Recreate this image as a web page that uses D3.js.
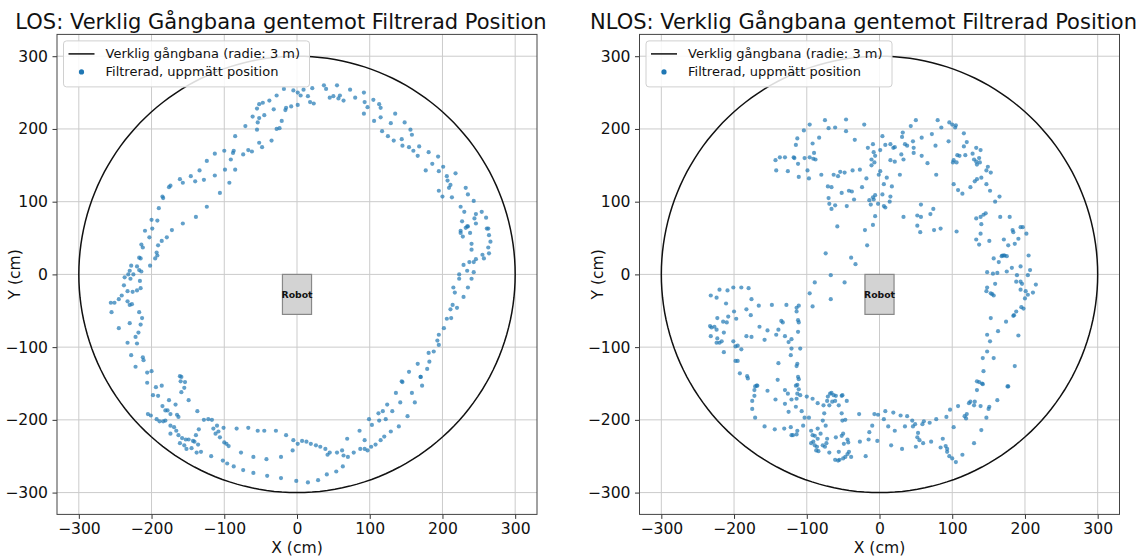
<!DOCTYPE html>
<html>
<head>
<meta charset="utf-8">
<script src="https://cdn.jsdelivr.net/npm/d3@7"></script>
<style>
  body { margin: 0; background: #fff; }
  svg { display: block; font-family: "DejaVu Sans", sans-serif; }
</style>
</head>
<body>
<svg id="plotarea" width="1145" height="556"></svg>
<script>
// Ticks, labels and the reference path
var ticks = [-300, -200, -100, 0, 100, 200, 300];
var titles = ["LOS: Verklig Gångbana gentemot Filtrerad Position",
              "NLOS: Verklig Gångbana gentemot Filtrerad Position"];
var legendLabels = ["Verklig gångbana (radie: 3 m)", "Filtrerad, uppmätt position"];
var pathRadius = 300;                 // cm
var robotBox = [-20, -55, 20, 0];     // x0, y0, x1, y1 in cm

// Filtered positions (x, y in cm)
var losPoints = [
  [-18,255],[-5,253],[1,250],[5,246],[9,254],[15,245],[21,256],[18,237],[23,235],[37,260],[40,255],[45,243],[55,260],[50,245],[57,242],[59,246],[64,239],[73,254],[80,243],[92,250],[93,237],[97,230],[105,240],[113,234],[115,229],[92,221],[106,211],[115,216],[135,221],[148,209],[129,208],[117,197],[125,190],[133,184],[144,186],[156,199],[158,192],[145,177],[154,175],[168,176],[160,170],[166,163],[181,168],[177,143],[186,152],[194,162],[201,148],[195,142],[206,135],[207,129],[211,123],[218,139],[209,119],[195,115],[200,107],[213,106],[232,119],[235,110],[243,101],[225,93],[230,86],[246,83],[254,86],[260,78],[244,77],[227,73],[234,66],[246,70],[225,60],[263,63],
  [-55,228],[-52,234],[-47,236],[-38,239],[-28,246],[-52,215],[-45,219],[-32,227],[-16,226],[-15,229],[-8,231],[1,233],[-21,211],[-24,201],[-28,200],[-61,217],[-54,209],[-55,199],[-71,204],[-62,169],[-67,171],[-74,165],[-52,181],[-48,175],[-35,184],[-85,190],[-87,170],[-88,167],[-100,170],[-113,166],[-91,158],[-99,144],[-85,144],[-124,156],[-134,143],[-146,135],[-140,128],[-157,126],[-161,131],[-128,130],[-113,136],[-93,126],[-106,112],[-174,122],[-176,120],[-185,107],[-184,105],[-190,91],[-124,93],[-139,79],[-157,70],[-172,61],[-192,74],[-200,75],[-199,63],[-209,60],
  [-203,51],[-179,51],[-186,46],[-214,41],[-212,37],[-191,40],[-193,30],[-192,26],[-195,22],[-217,23],[-215,22],[-202,12],[-228,12],[-220,11],[-217,6],[-214,4],[-230,5],[-232,0],[-225,0],[-237,-4],[-229,-6],[-238,-15],[-216,-9],[-215,-19],[-220,-22],[-226,-24],[-233,-23],[-241,-29],[-245,-34],[-251,-39],[-256,-39],[-233,-37],[-230,-42],[-227,-41],[-255,-52],[-217,-52],[-213,-60],[-230,-67],[-215,-69],[-245,-74],[-218,-80],[-222,-86],[-233,-94],[-220,-95],[-228,-111],[-212,-114],[-211,-118],[-222,-127],[-206,-135],[-200,-133],[-206,-149],[-161,-140],[-159,-141],[-160,-147],[-154,-148],
  [232,64],[235,66],[238,57],[225,57],[228,52],[261,63],[264,54],[266,45],[240,42],[240,34],[263,37],[264,29],[255,27],[257,22],[246,21],[243,17],[237,17],[229,13],[234,5],[223,0],[243,3],[223,-6],[240,-6],[215,-18],[235,-18],[217,-25],[229,-31],[214,-42],[211,-48],[220,-46],[206,-61],[212,-60],[202,-74],[195,-83],[193,-91],[195,-97],[188,-106],[181,-108],[182,-120],[166,-123],[179,-130],[154,-134],[170,-141],[144,-147],
  [-194,-155],[-186,-153],[-198,-166],[-191,-167],[-155,-156],[-159,-162],[-149,-173],[-176,-173],[-185,-181],[-167,-179],[-178,-187],[-181,-187],[-174,-192],[-205,-192],[-201,-194],[-193,-199],[-189,-202],[-184,-202],[-181,-201],[-165,-193],[-163,-196],[-174,-208],[-169,-210],[-166,-215],[-174,-219],[-163,-221],[-158,-225],[-153,-227],[-149,-227],[-143,-229],[-161,-232],[-155,-235],[-152,-240],[-145,-239],[-138,-245],[-132,-244],[-136,-234],[-141,-230],[-139,-221],[-135,-213],[-137,-188],[-128,-200],[-122,-199],[-117,-200],[-110,-208],[-115,-212],[-112,-219],[-108,-216],[-106,-224],[-100,-231],[-97,-233],[-94,-236],[-101,-211],[-83,-212],[-67,-211],[-54,-215],[-45,-215],[-29,-215],[-15,-221],[-5,-228],[1,-233],[7,-229],[13,-230],[19,-233],[26,-235],[32,-237],[39,-240],[45,-245],[42,-248],[55,-245],[62,-242],[64,-249],[70,-251],[78,-245],[87,-240],[93,-240],[97,-242],[102,-237],[108,-234],[115,-228],[120,-223],[129,-216],[140,-209],[152,-195],[69,-226],[86,-215],[93,-228],[99,-199],[103,-207],[113,-201],[122,-199],[112,-191],[118,-188],[124,-179],[131,-188],[136,-163],[142,-176],[145,-148],[158,-163],[162,-176],[170,-141],[172,-153],
  [-102,-256],[-96,-260],[-87,-264],[-74,-269],[-60,-273],[-41,-277],[-22,-280],[-1,-284],[15,-286],[29,-283],[41,-275],[54,-271],[63,-264],[-77,-245],[-60,-251],[-42,-254],[-22,-251],[-6,-242],[-118,-250]
];

var nlosPoints = [
  [-143,157],[-137,161],[-130,161],[-142,143],[-126,142],[-118,161],[-117,160],[-112,152],[-111,134],[-103,160],[-99,143],[-96,161],[-97,132],[-91,159],[-88,158],[-90,167],[-92,180],[-115,178],[-113,187],[-104,198],[-96,206],[-83,188],[-80,137],[-75,212],[-70,201],[-61,202],[-46,213],[-46,197],[-34,185],[-21,206],[-71,121],[-66,120],[-63,137],[-57,135],[-54,141],[-48,140],[-37,143],[-27,144],[-70,105],[-69,97],[-66,90],[-61,95],[-52,112],[-45,94],[-42,115],[-38,114],[-35,103],[-24,120],[-18,132],[-14,102],[-12,96],[-9,106],[-6,109],[-8,103],[-2,97],[-1,137],[1,142],[6,124],[10,133],[17,121],[15,107],[14,100],[4,110],[6,94],[8,92],[-6,80],[-9,68],[-20,61],[-17,40],[-58,66],[-74,29],[-39,23],
  [-16,174],[-9,179],[-8,168],[-11,158],[-7,154],[-6,163],[-11,150],[1,171],[4,190],[8,178],[15,179],[19,174],[21,175],[15,157],[21,155],[28,137],[32,195],[31,189],[35,179],[38,177],[33,158],[30,165],[43,204],[50,212],[47,174],[47,167],[46,183],[58,188],[72,193],[77,177],[80,212],[85,202],[96,209],[100,206],[105,205],[104,202],[116,194],[95,183],[120,182],[116,176],[107,164],[110,163],[102,157],[101,154],[106,154],[118,164],[128,166],[133,174],[139,171],[130,158],[133,155],[137,160],[138,154],[134,151],[149,148],[147,143],[153,140],[66,153],[58,163],[78,137],[102,124],[108,116],[114,111],[125,120],[131,128],[134,131],[140,133],[147,124],[152,115],[165,107],[159,100],
  [57,96],[74,90],[33,79],[52,81],[57,79],[70,83],[52,67],[56,58],[75,61],[84,63],[106,59],[133,77],[139,79],[143,82],[146,84],[140,69],[166,79],[179,79],[133,48],[137,41],[151,46],[139,56],[171,48],[177,40],[184,58],[183,61],[186,42],[191,49],[194,65],[197,65],[202,56],[205,26],[169,26],[172,26],[157,22],
  [-232,-29],[-224,-32],[-220,-21],[-209,-22],[-201,-18],[-190,-18],[-180,-19],[-176,-34],[-211,-40],[-200,-51],[-197,-61],[-183,-48],[-177,-56],[-166,-43],[-148,-42],[-128,-42],[-114,-46],[-111,-43],[-114,-51],[-112,-63],[-111,-66],[-112,-79],[-139,-76],[-135,-64],[-133,-66],[-154,-77],[-165,-72],[-183,-85],[-176,-86],[-158,-90],[-142,-83],[-130,-85],[-121,-89],[-125,-93],[-233,-71],[-231,-73],[-227,-72],[-223,-60],[-215,-65],[-210,-66],[-208,-58],[-224,-76],[-214,-80],[-232,-85],[-223,-88],[-224,-94],[-220,-94],[-217,-92],[-201,-92],[-198,-99],[-195,-98],[-190,-103],[-214,-107],[-198,-119],[-195,-119],[-192,-136],[-182,-140],[-181,-143],[-169,-153],[-139,-122],[-140,-145],[-121,-102],[-109,-102],[-122,-111],[-113,-123],[-114,-126],[-112,-141],[-111,-144],[-113,-152],
  [-33,14],[-67,-1],[-48,-11],[-89,-11],[-96,-26],[-92,-44],[-67,-34],
  [164,17],[168,25],[171,26],[175,25],[182,9],[194,11],[207,6],[204,-1],[189,-1],[175,4],[162,2],[156,1],[148,3],[159,-13],[148,-18],[147,-23],[155,-27],[157,-29],[153,-26],[188,-10],[194,-10],[196,-13],[194,-21],[201,-23],[204,-28],[211,-25],[215,-14],[200,-33],[195,-45],[198,-47],[188,-51],[185,-56],[184,-57],[153,-60],[174,-65],[163,-78],[148,-83],[191,-84],[152,-92],[148,-106],[142,-115],[157,-115],[186,-126],[143,-133],[134,-147],[141,-150],[177,-154],
  [-171,-154],[-168,-153],[-172,-159],[-172,-167],[-175,-174],[-175,-185],[-171,-197],[-154,-160],[-143,-172],[-130,-159],[-126,-164],[-121,-172],[-130,-178],[-125,-189],[-115,-153],[-111,-158],[-113,-164],[-109,-166],[-114,-171],[-115,-182],[-107,-188],[-100,-168],[-92,-171],[-85,-177],[-77,-180],[-72,-174],[-71,-168],[-68,-164],[-66,-163],[-63,-166],[-60,-167],[-61,-174],[-52,-167],[-51,-166],[-45,-174],[-69,-180],[-65,-175],[-56,-180],[-103,-197],[-97,-197],[-76,-191],[-78,-201],[-52,-191],[-51,-201],[-47,-200],[-74,-208],[-85,-212],[-94,-215],[-92,-221],[-89,-222],[-81,-219],[-85,-226],[-91,-230],[-89,-235],[-94,-232],[-86,-237],[-84,-243],[-87,-242],[-78,-235],[-73,-232],[-72,-226],[-75,-237],[-69,-245],[-61,-255],[-57,-256],[-55,-255],[-50,-253],[-47,-251],[-44,-247],[-42,-244],[-56,-244],[-60,-224],[-52,-222],[-50,-219],[-44,-227],[-43,-231],[-49,-233],[-39,-251],[-19,-250],[-27,-230],[-15,-227],[-14,-217],[-10,-208],[-3,-229],[-28,-192],[-7,-192],[-2,-193],[8,-188],[6,-199],[12,-209],[16,-235],[19,-190],[21,-215],[29,-194],[31,-240],[35,-209],[38,-195],[45,-201],[46,-209],[49,-206],[53,-218],[52,-224],[55,-228],[60,-232],[50,-237],[61,-202],[59,-206],[69,-204],[71,-230],[78,-199],[87,-226],[84,-238],[92,-196],[97,-186],[91,-236],[93,-240],[93,-244],[96,-250],[100,-253],[105,-258],[114,-248],[102,-210],[108,-181],[117,-195],[119,-198],[120,-192],[123,-177],[125,-175],[130,-180],[130,-232],[131,-175],[139,-181],[140,-214],[147,-197],[150,-185],[151,-182],[162,-173],[176,-154],[137,-148],[142,-151],[134,-159],
  [-158,-209],[-144,-213],[-131,-212],[-122,-210],[-121,-221],[-119,-221],[-114,-220],[-113,-215],[-105,-208]
];

var blue = "#1f77b4";
var svg = d3.select("#plotarea");

function drawPanel(left, title, points) {
    var top = 34.4, size = 480, lim = 330;

    var x = d3.scaleLinear().domain([-lim, lim]).range([left, left + size]);
    var y = d3.scaleLinear().domain([-lim, lim]).range([top + size, top]);

    var g = svg.append("g");

    // grid
    g.selectAll(".gx").data(ticks).enter().append("line")
        .attr("x1", function (d) { return x(d); })
        .attr("x2", function (d) { return x(d); })
        .attr("y1", top).attr("y2", top + size)
        .attr("stroke", "#cbcbcb").attr("stroke-width", 1);
    g.selectAll(".gy").data(ticks).enter().append("line")
        .attr("y1", function (d) { return y(d); })
        .attr("y2", function (d) { return y(d); })
        .attr("x1", left).attr("x2", left + size)
        .attr("stroke", "#cbcbcb").attr("stroke-width", 1);

    // true walking path (circle)
    var angles = d3.range(0, 361, 2);
    var circle = d3.line()
        .x(function (a) { return x(pathRadius * Math.cos(a * Math.PI / 180)); })
        .y(function (a) { return y(pathRadius * Math.sin(a * Math.PI / 180)); });
    g.append("path")
        .attr("d", circle(angles))
        .attr("fill", "none")
        .attr("stroke", "#111")
        .attr("stroke-width", 1.5);

    // filtered points
    g.selectAll(".pt").data(points).enter().append("circle")
        .attr("cx", function (d) { return x(d[0]); })
        .attr("cy", function (d) { return y(d[1]); })
        .attr("r", 2.1)
        .attr("fill", blue)
        .attr("fill-opacity", 0.7);

    // robot box
    g.append("rect")
        .attr("x", x(robotBox[0]))
        .attr("y", y(robotBox[3]))
        .attr("width", x(robotBox[2]) - x(robotBox[0]))
        .attr("height", y(robotBox[1]) - y(robotBox[3]))
        .attr("fill", "#d3d3d3")
        .attr("stroke", "#888")
        .attr("stroke-width", 1.2);
    g.append("text")
        .attr("x", x(0))
        .attr("y", y((robotBox[1] + robotBox[3]) / 2))
        .attr("dy", "0.35em")
        .attr("text-anchor", "middle")
        .attr("font-weight", "bold")
        .attr("font-size", 9.3)
        .attr("fill", "#111")
        .text("Robot");

    // axes
    var fmt = function (d) { return d < 0 ? "\u2212" + Math.abs(d) : d; };
    var xAxis = d3.axisBottom(x).tickValues(ticks).tickSize(4.5).tickPadding(4.5).tickFormat(fmt);
    var yAxis = d3.axisLeft(y).tickValues(ticks).tickSize(4.5).tickPadding(4.5).tickFormat(fmt);

    var ax = g.append("g").attr("transform", "translate(0," + (top + size) + ")").call(xAxis);
    var ay = g.append("g").attr("transform", "translate(" + left + ",0)").call(yAxis);
    [ax, ay].forEach(function (a) {
        a.select(".domain").remove();
        a.selectAll(".tick line").attr("stroke", "#333");
        a.selectAll(".tick text")
            .attr("font-family", "DejaVu Sans")
            .attr("font-size", 15.6)
            .attr("fill", "#111");
    });

    // frame
    g.append("rect")
        .attr("x", left).attr("y", top)
        .attr("width", size).attr("height", size)
        .attr("fill", "none")
        .attr("stroke", "#444")
        .attr("stroke-width", 1);

    // labels (title sits a little left of the axes centre in the picture)
    g.append("text")
        .attr("x", x(0) - 16).attr("y", 29)
        .attr("text-anchor", "middle")
        .attr("font-size", 21)
        .attr("fill", "#111")
        .text(title);
    g.append("text")
        .attr("x", x(0)).attr("y", 553)
        .attr("text-anchor", "middle")
        .attr("font-size", 15.6)
        .attr("fill", "#111")
        .text("X (cm)");
    g.append("text")
        .attr("transform", "translate(" + (left - 37) + "," + y(0) + ") rotate(-90)")
        .attr("text-anchor", "middle")
        .attr("font-size", 15.6)
        .attr("fill", "#111")
        .text("Y (cm)");

    // legend
    var lg = g.append("g").attr("transform", "translate(" + (left + 6.5) + "," + (top + 6.5) + ")");
    lg.append("rect")
        .attr("width", 246).attr("height", 46)
        .attr("rx", 3)
        .attr("fill", "white").attr("fill-opacity", 0.85)
        .attr("stroke", "#d0d0d0");
    lg.append("line")
        .attr("x1", 5).attr("x2", 31)
        .attr("y1", 13).attr("y2", 13)
        .attr("stroke", "#111").attr("stroke-width", 1.5);
    lg.append("circle")
        .attr("cx", 18).attr("cy", 31).attr("r", 2.6)
        .attr("fill", blue);
    lg.selectAll(".lt").data(legendLabels).enter().append("text")
        .attr("x", 42)
        .attr("y", function (d, i) { return 13 + i * 18; })
        .attr("dy", "0.35em")
        .attr("font-size", 13)
        .attr("fill", "#111")
        .text(function (d) { return d; });
}

drawPanel(57, titles[0], losPoints);
drawPanel(639.5, titles[1], nlosPoints);
</script>
</body>
</html>
